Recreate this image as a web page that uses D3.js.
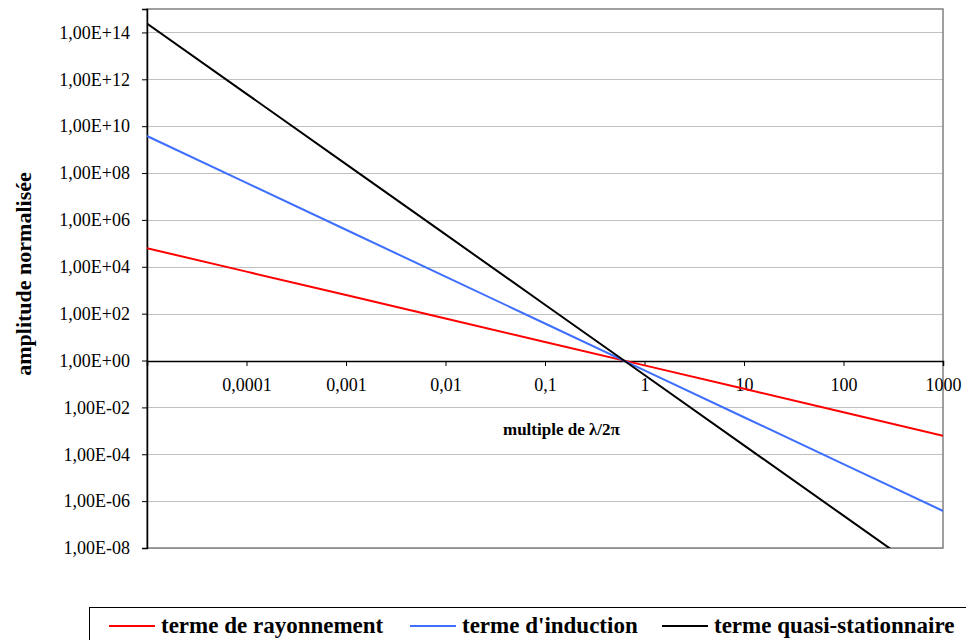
<!DOCTYPE html>
<html>
<head>
<meta charset="utf-8">
<script src="https://cdn.jsdelivr.net/npm/d3@7"></script>
<style>
  body { margin: 0; background: #fff; }
  svg { display: block; }
  svg text { font-family: "Liberation Serif", "Tinos", "Times New Roman", "DejaVu Serif", serif !important; }
</style>
</head>
<body>
<div id="chart"></div>
<script>
// x values: multiples of lambda/2pi
const xValues = [0.00001, 0.0001, 0.001, 0.01, 0.1, 1, 10, 100, 1000];
// normalised amplitude
const rayonnement = [6.2e4, 6.2e3, 620, 62, 6.2, 0.62, 0.062, 0.0062, 0.00062];
const induction = [3.8e9, 3.8e7, 3.8e5, 3800, 38, 0.38, 0.0038, 3.8e-5, 3.8e-7];
const quasiStat = [2.4e14, 2.4e11, 2.4e8, 2.4e5, 240, 0.24, 2.4e-4, 2.4e-7, 2.4e-10];

const seriesNames = ["terme de rayonnement", "terme d'induction", "terme quasi-stationnaire"];
const seriesColors = ["#ff0000", "#3f6fff", "#000000"];
const yTicks = [1e-8, 1e-6, 1e-4, 1e-2, 1e0, 1e2, 1e4, 1e6, 1e8, 1e10, 1e12, 1e14];
const xTicks = [0.0001, 0.001, 0.01, 0.1, 1, 10, 100, 1000];

const width = 966, height = 640;
const margin = { left: 147, right: 23, top: 9, bottom: 92 };

const svg = d3.select("#chart").append("svg")
    .attr("width", width)
    .attr("height", height);

const x = d3.scaleLog()
    .domain([1e-5, 1000])
    .range([margin.left, width - margin.right]);

const y = d3.scaleLog()
    .domain([1e-8, 1e15])
    .range([height - margin.bottom, margin.top]);

// format like Excel: 1,00E+14
function sciFmt(v) {
    const e = Math.round(Math.log10(v));
    const sign = e < 0 ? "-" : "+";
    const ab = Math.abs(e);
    return "1,00E" + sign + (ab < 10 ? "0" + ab : ab);
}
function decFmt(v) {
    return String(v).replace(".", ",");
}

// gridlines
svg.append("g").attr("class", "grid")
    .selectAll("line").data(yTicks.filter(d => d !== 1))
    .enter().append("line")
    .attr("x1", x.range()[0]).attr("x2", x.range()[1])
    .attr("y1", d => Math.round(y(d)) + 0.5).attr("y2", d => Math.round(y(d)) + 0.5)
    .attr("stroke", "#c0c0c0").attr("stroke-width", 1);

// plot frame
svg.append("rect")
    .attr("x", x.range()[0]).attr("y", y.range()[1])
    .attr("width", x.range()[1] - x.range()[0])
    .attr("height", y.range()[0] - y.range()[1])
    .attr("fill", "none").attr("stroke", "#808080").attr("stroke-width", 1.5);

// y axis
const yAxis = svg.append("g")
    .attr("transform", "translate(" + x.range()[0] + ",0)")
    .call(d3.axisLeft(y).tickValues(yTicks).tickFormat(sciFmt).tickSizeOuter(0).tickSize(5).tickPadding(12));
yAxis.select(".domain").attr("stroke", "#000").attr("stroke-width", 1.5);
yAxis.selectAll("text").attr("font-size", 18).attr("fill", "#000");

// x axis crosses at 1
const xAxis = svg.append("g")
    .attr("transform", "translate(0," + Math.round(y(1)) + ")")
    .call(d3.axisBottom(x).tickValues(xTicks).tickFormat(decFmt).tickSizeOuter(0).tickSize(5).tickPadding(12));
xAxis.select(".domain").attr("stroke", "#000").attr("stroke-width", 1.5);
xAxis.selectAll("text").attr("font-size", 18).attr("fill", "#000");

// clip
svg.append("clipPath").attr("id", "plotclip")
    .append("rect")
    .attr("x", x.range()[0]).attr("y", y.range()[1])
    .attr("width", x.range()[1] - x.range()[0])
    .attr("height", y.range()[0] - y.range()[1]);

const line = d3.line()
    .x(d => x(d[0]))
    .y(d => y(d[1]));

const allSeries = [rayonnement, induction, quasiStat];
svg.append("g").attr("clip-path", "url(#plotclip)")
    .selectAll("path").data(allSeries)
    .enter().append("path")
    .attr("d", vals => line(xValues.map((xv, i) => [xv, vals[i]])))
    .attr("fill", "none")
    .attr("stroke", (d, i) => seriesColors[i])
    .attr("stroke-width", 2);

// axis titles
svg.append("text")
    .attr("transform", "translate(31,274) rotate(-90)")
    .attr("text-anchor", "middle")
    .attr("font-weight", "bold")
    .attr("font-size", 22)
    .text("amplitude normalisée");

svg.append("text")
    .attr("x", 503).attr("y", 435)
    .attr("font-weight", "bold")
    .attr("font-size", 17)
    .text("multiple de λ/2π");

// legend
const legend = svg.append("g");
legend.append("rect")
    .attr("x", 89.5).attr("y", 607.5)
    .attr("width", 900).attr("height", 60)
    .attr("fill", "#fff").attr("stroke", "#000").attr("stroke-width", 1);

const legendX = [109, 410, 662];
const items = legend.selectAll("g.item").data(seriesNames)
    .enter().append("g").attr("class", "item")
    .attr("transform", (d, i) => "translate(" + legendX[i] + ",626)");
items.append("line")
    .attr("x1", 0).attr("x2", 46)
    .attr("stroke", (d, i) => seriesColors[i])
    .attr("stroke-width", 2);
items.append("text")
    .attr("x", 52).attr("y", 7)
    .attr("font-weight", "bold")
    .attr("font-size", 23)
    .text(d => d);
</script>
</body>
</html>
